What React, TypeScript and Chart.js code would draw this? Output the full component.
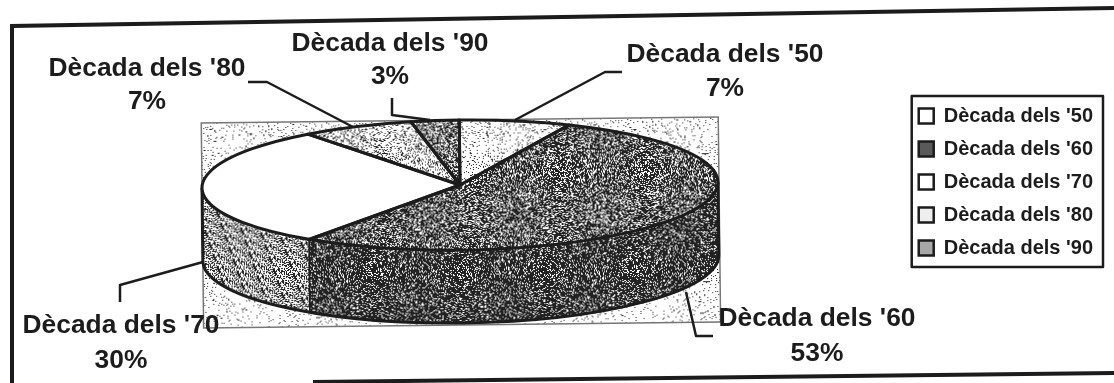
import React, { useEffect, useRef } from "react";
import { Chart } from "chart.js/auto";

const categories = ["Dècada dels '50", "Dècada dels '60", "Dècada dels '70", "Dècada dels '80", "Dècada dels '90"];
const shares = [7, 53, 30, 7, 3];
const percentLabels = ["7%", "53%", "30%", "7%", "3%"];
const labelCenterX = [725, 817, 121, 147, 390];
const labelNameBaseline = [62, 326, 333, 76, 51];
const labelPercentBaseline = [96, 361, 368, 109, 84];
const leaderX = [[622, 605, 515], [713, 696, 686], [120, 120, 203], [248, 267, 353], [392, 392, 430]];
const leaderY = [[72, 72, 120], [336, 336, 292], [302, 285, 262], [82, 82, 127], [98, 115, 120]];
const topInk = [0.1, 0.66, 0, 0.24, 0.55];
const sideInk = [0, 0.78, 0.45, 0, 0];
const backdropInk = 0.06;
const legendSwatches = ["#ffffff", "#5a5a5a", "#ffffff", "#eeeeee", "#a8a8a8"];

const STAGE_X = 460;
const STAGE_Y = 185;
const RADIUS = 258;
const SQUASH = 65 / 258;
const DEPTH = 73;
const TILT = (-0.66 * Math.PI) / 180;
const INK = "#1c1c1c";
const LABEL_FONT = "bold 26.4px 'Liberation Sans', Arial, sans-serif";

function grain(density: number, seed: number): HTMLCanvasElement {
  const size = 128;
  const tile = document.createElement("canvas");
  tile.width = size;
  tile.height = size;
  const c = tile.getContext("2d")!;
  c.fillStyle = "#ffffff";
  c.fillRect(0, 0, size, size);
  c.fillStyle = "#222222";
  let state = seed * 7919 + 17;
  for (let y = 0; y < size; y++) {
    for (let x = 0; x < size; x++) {
      state = (state * 1103515245 + 12345) & 0x7fffffff;
      if (((state >> 8) & 1023) / 1024 < density) c.fillRect(x, y, 1, 1);
    }
  }
  return tile;
}

function texture(ctx: CanvasRenderingContext2D, density: number, seed: number, squashed: boolean): CanvasPattern {
  const p = ctx.createPattern(grain(density, seed), "repeat")!;
  if (squashed) p.setTransform(new DOMMatrix().scale(1, 1 / SQUASH));
  return p;
}

export default function App() {
  const ref = useRef<HTMLCanvasElement>(null);
  useEffect(() => {
    const canvas = ref.current!;
    const ctx = canvas.getContext("2d")!;
    const sidePatterns = sideInk.map((d, i) => texture(ctx, d, i + 11, false));
    const backdrop = texture(ctx, backdropInk, 31, false);

    const stage = (c: CanvasRenderingContext2D) => {
      c.translate(STAGE_X, STAGE_Y);
      c.rotate(TILT);
    };

    const pieStage = {
      id: "pieStage",
      beforeDatasetsDraw(chart: any) {
        const c: CanvasRenderingContext2D = chart.ctx;
        const arcs = chart.getDatasetMeta(0).data;
        const r = arcs[0].outerRadius;

        // scanned page frame
        c.save();
        c.strokeStyle = INK;
        c.lineWidth = 4;
        c.beginPath();
        c.moveTo(12, 383);
        c.lineTo(12, 26);
        c.lineTo(1114, 8);
        c.moveTo(313, 382);
        c.lineTo(1114, 373);
        c.stroke();
        c.restore();

        // backdrop and side wall
        c.save();
        stage(c);
        c.fillStyle = backdrop;
        c.fillRect(-r, -65, 2 * r + 1, 205);
        c.strokeStyle = "#777777";
        c.lineWidth = 1.5;
        c.strokeRect(-r, -65, 2 * r + 1, 205);
        arcs.forEach((arc: any, i: number) => {
          const a0 = Math.max(arc.startAngle, 0);
          const a1 = Math.min(arc.endAngle, Math.PI);
          if (a1 <= a0) return;
          c.beginPath();
          c.ellipse(0, 0, r, r * SQUASH, 0, a0, a1);
          c.ellipse(0, DEPTH, r, r * SQUASH, 0, a1, a0, true);
          c.closePath();
          c.fillStyle = sidePatterns[i];
          c.fill();
          c.strokeStyle = INK;
          c.lineWidth = 1.5;
          c.stroke();
        });
        c.lineWidth = 3;
        c.beginPath();
        c.ellipse(0, DEPTH, r, r * SQUASH, 0, 0, Math.PI);
        c.moveTo(-r, 0);
        c.lineTo(-r, DEPTH);
        c.moveTo(r, 0);
        c.lineTo(r, DEPTH);
        c.stroke();
        c.restore();

        // squash the library's own arcs onto the tilted disc
        c.save();
        stage(c);
        c.scale(1, SQUASH);
        c.translate(-arcs[0].x, -arcs[0].y);
      },
      afterDatasetsDraw(chart: any) {
        const c: CanvasRenderingContext2D = chart.ctx;
        const arcs = chart.getDatasetMeta(0).data;
        c.restore();

        c.save();
        c.strokeStyle = INK;
        c.lineWidth = 3;
        c.lineJoin = "round";
        arcs.forEach((arc: any) => {
          c.save();
          stage(c);
          c.scale(1, SQUASH);
          c.beginPath();
          c.moveTo(0, 0);
          c.arc(0, 0, arc.outerRadius, arc.startAngle, arc.endAngle);
          c.closePath();
          c.restore();
          c.stroke();
        });

        // leader lines
        c.lineWidth = 2.5;
        leaderX.forEach((xs, i) => {
          c.beginPath();
          xs.forEach((x, j) => (j === 0 ? c.moveTo(x, leaderY[i][j]) : c.lineTo(x, leaderY[i][j])));
          c.stroke();
        });

        // data labels
        c.fillStyle = INK;
        c.font = LABEL_FONT;
        c.textAlign = "center";
        c.textBaseline = "alphabetic";
        categories.forEach((name, i) => {
          c.fillText(name, labelCenterX[i], labelNameBaseline[i]);
          c.fillText(percentLabels[i], labelCenterX[i], labelPercentBaseline[i]);
        });

        // legend frame, fitted round the legend's own rows
        const lg = chart.legend;
        const rows = lg.legendHitBoxes;
        const top = rows[0].top - 10;
        const bottom = rows[rows.length - 1].top + rows[rows.length - 1].height + 9;
        const left = rows[0].left - 7;
        c.strokeStyle = INK;
        c.lineWidth = 2.5;
        c.strokeRect(left, top, lg.right - left, bottom - top);
        c.restore();
      },
    };

    const chart = new Chart(canvas, {
      type: "pie",
      data: {
        labels: categories,
        datasets: [
          {
            data: shares,
            backgroundColor: topInk.map((d, i) => (d === 0 ? "#ffffff" : texture(ctx, d, i + 1, true))),
            borderWidth: 0,
            clip: false,
          } as any,
        ],
      },
      options: {
        responsive: false,
        animation: false,
        radius: RADIUS,
        layout: { padding: { right: 11, bottom: 19, top: 0, left: 0 } },
        plugins: {
          title: { display: false },
          tooltip: { enabled: false },
          legend: {
            display: true,
            position: "right",
            labels: {
              font: { family: "'Liberation Sans', Arial, sans-serif", size: 20, weight: "bold" },
              color: INK,
              boxWidth: 15,
              boxHeight: 15,
              padding: 13,
              generateLabels: () =>
                categories.map((text, i) => ({
                  text,
                  fillStyle: legendSwatches[i],
                  strokeStyle: INK,
                  lineWidth: 2.5,
                  fontColor: INK,
                  index: i,
                })),
            },
          },
        },
      } as any,
      plugins: [pieStage as any],
    });
    return () => chart.destroy();
  }, []);
  return (
    <canvas
      ref={ref}
      width={1114}
      height={383}
      style={{ position: "fixed", left: 0, top: 0, width: 1114, height: 383, display: "block", background: "#ffffff" }}
    />
  );
}
